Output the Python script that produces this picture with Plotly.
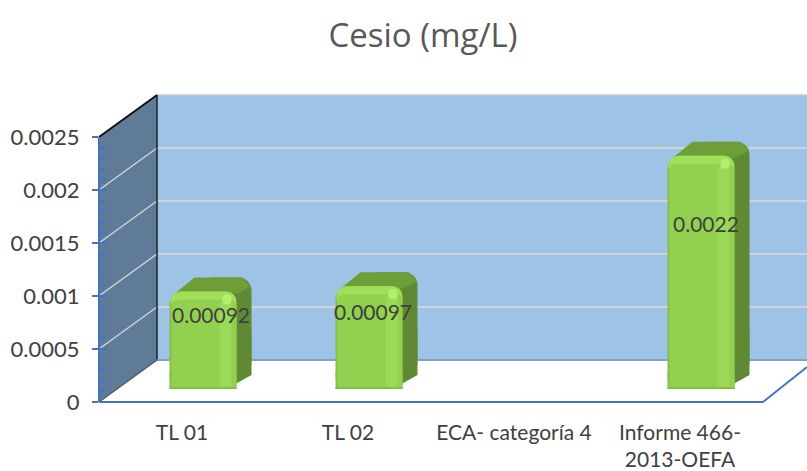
import plotly.graph_objects as go

categories = ["TL 01", "TL 02", "ECA- categoría 4", "Informe 466-<br>2013-OEFA"]
values = [0.00092, 0.00097, None, 0.0022]
value_labels = ["0.00092", "0.00097", "", "0.0022"]
tick_vals = [0, 0.0005, 0.001, 0.0015, 0.002, 0.0025]
tick_text = ["0", "0.0005", "0.001", "0.0015", "0.002", "0.0025"]
title = "Cesio (mg/L)"

W, H = 807, 471
X0, Y0, CAT, UNIT = 99, 402, 166, 106000  # pixel scale of the front axis plane
xr = [-0.5, -0.5 + (W - X0) / CAT]
yr = [0, Y0 / UNIT]


def px(v):
    return v / W


def py(v):
    return 1 - v / H


def dx(p):
    return p / CAT


def dy(p):
    return p / UNIT


fig = go.Figure()

# --- pseudo-3D chart box
def poly(pts, fill, line=None, width=0):
    path = "M" + " L".join(f"{px(a):.5f},{py(b):.5f}" for a, b in pts) + " Z"
    fig.add_shape(type="path", path=path, xref="paper", yref="paper", layer="below",
                  fillcolor=fill, line=dict(color=line or fill, width=width))


def seg(a, b, c, d, color, width=1.5):
    fig.add_shape(type="line", x0=px(a), y0=py(b), x1=px(c), y1=py(d), xref="paper",
                  yref="paper", layer="below", line=dict(color=color, width=width))


poly([(157, 95), (807, 95), (807, 360), (157, 360)], "#9DC3E6")
poly([(99, 402), (157, 360), (157, 95), (99, 137)], "#5F7B97")
for t in tick_vals[1:-1]:
    h = t * UNIT
    seg(157, 360 - h, 807, 360 - h, "#D4D4D4", 2)
    seg(99, 402 - h, 157, 360 - h, "#D4D4D4", 1.5)
seg(157, 95, 807, 95, "#C4CDD6", 1.5)
seg(157, 95, 157, 360, "#222222", 1.5)
seg(99, 137, 157, 95, "#111111", 2)
seg(99, 402, 157, 360, "#555555", 1.2)
seg(157, 360, 807, 360, "#7F9FD3", 2)
seg(99, 402, 763, 402, "#4472C4", 2)
seg(763, 402, 807, 367, "#4472C4", 2)

# --- bars
OFF, BW, BASE = dx(21), 67 / CAT, dy(13)
SX, SY = 15, 14
xs = [i + OFF for i, v in enumerate(values) if v is not None]
vs = [v for v in values if v is not None]


def bar(inset_l, inset_r, inset_t, color, radius_ax="x2", shift=(0, 0), height=None, foot=None, cr=None):
    w = BW - dx(inset_l + inset_r)
    xc = [x + dx(inset_l - inset_r) / 2 + dx(shift[0]) for x in xs]
    marker = dict(color=color, line_width=0)
    if cr is not None:
        marker["cornerradius"] = cr
    if foot is not None:
        ys = [dy(foot)] * len(vs)
        bases = [BASE] * len(vs)
        marker["cornerradius"] = 0
    elif height is None:
        ys = [v - dy(inset_t) for v in vs]
        bases = [BASE + dy(shift[1])] * len(vs)
    else:
        ys = [dy(height)] * len(vs)
        bases = [BASE + v - dy(inset_t + height) for v in vs]
    fig.add_bar(x=xc, y=ys, base=bases, width=w, marker=marker,
                xaxis=radius_ax, yaxis="y2" if radius_ax == "x2" else "y",
                hoverinfo="skip", showlegend=False)


# side face (rear copy of the front face, then chamfer at the foot)
bar(16, 0, 0, "#5F8A33", radius_ax="x", shift=(SX, SY))
for x, v in zip(xs, vs):
    l = x - BW / 2
    r = x + BW / 2
    top = BASE + v
    fig.add_scatter(x=[r - dx(10), r + dx(SX), r + dx(SX), r - dx(10)],
                    y=[BASE, BASE + dy(SY), BASE + dy(60), BASE + dy(60)],
                    fill="toself", fillcolor="#5F8A33", mode="none", xaxis="x", yaxis="y",
                    hoverinfo="skip", showlegend=False)
    fig.add_scatter(x=[l + dx(3), l + dx(25), r + dx(6), r + dx(SX - 1), r + dx(SX - 14), r - dx(6), l + dx(3)],
                    y=[top - dy(4), top + dy(SY), top + dy(SY), top + dy(SY - 9), top - dy(2), top - dy(2), top - dy(4)],
                    fill="toself", fillcolor="#6F9E38", mode="none", xaxis="x", yaxis="y",
                    hoverinfo="skip", showlegend=False)

# front face: nested rounded bars give the bevel and highlights
bar(0, 0, 0, "#84C046")
bar(1, 0, 0, "#9FE05B", height=20)
bar(2, 0, 8, "#92D050", cr=6)
bar(50, 5, 9, "#9ADA56", cr=5)
bar(53, 5, 3, "#B4F06C", height=10, cr=5)
# square foot of the front face
bar(0, 0, 0, "#84C046", foot=16)
bar(2, 0, 0, "#92D050", foot=16)
bar(50, 5, 0, "#9ADA56", foot=16)
bar(0, 0, 0, "#84C046", foot=1.5)

# data labels
label_shift = [(8, -23), (4, -25), None, (5, -68)]
for x, v, t, s in zip(range(4), values, value_labels, label_shift):
    if v is None:
        continue
    fig.add_annotation(x=x + OFF, y=BASE + v, xref="x2", yref="y2", text=t, showarrow=False,
                       xshift=s[0], yshift=s[1], font=dict(family="Lato", size=21, color="#404040"))

# axis carrying the inner ticks, which stop at the top of the scale
fig.add_scatter(x=[0] * len(tick_vals), y=tick_vals, mode="none", xaxis="x3", yaxis="y3",
                hoverinfo="skip", showlegend=False)

fig.update_layout(
    width=W, height=H, margin=dict(l=0, r=0, t=0, b=0, autoexpand=False),
    paper_bgcolor="white", plot_bgcolor="rgba(0,0,0,0)",
    barmode="overlay", barcornerradius=13, showlegend=False,
    title=dict(text=title, x=423 / W, xanchor="center", y=1 - 35 / H, yanchor="middle",
               font=dict(family="Open Sans", size=33, color="#595959")),
    font=dict(family="Lato", color="#404040"),
    xaxis=dict(domain=[px(X0), 1], range=xr, tickmode="array", tickvals=list(range(4)),
               ticktext=categories, ticks="", showgrid=False, zeroline=False, showline=False,
               tickfont=dict(family="Lato", size=21, color="#404040"), ticklabelstandoff=16,
               fixedrange=True),
    yaxis=dict(domain=[py(Y0), 1], range=yr, tickmode="array", tickvals=tick_vals, ticktext=tick_text,
               ticks="outside", ticklen=6, tickwidth=2, tickcolor="#4472C4", showgrid=False,
               zeroline=False, showline=False, tickfont=dict(family="Lato", size=22, color="#404040"),
               ticklabelstandoff=8, fixedrange=True),
    xaxis2=dict(domain=[px(X0), 1], range=xr, overlaying="x", visible=False, fixedrange=True),
    yaxis2=dict(domain=[py(Y0), 1], range=yr, overlaying="y", visible=False, fixedrange=True),
    xaxis3=dict(domain=[px(X0), 1], range=xr, visible=False, fixedrange=True, anchor="y3"),
    yaxis3=dict(domain=[py(Y0), py(137)], range=[0, 0.0025], anchor="x3", tickmode="array",
                tickvals=tick_vals, showticklabels=False, ticks="inside", ticklen=8, tickwidth=2,
                tickcolor="#4472C4", showgrid=False, zeroline=False, showline=False, fixedrange=True,
                minor=dict(dtick=0.0001, tick0=0, ticks="inside", ticklen=7, tickwidth=1.5,
                           tickcolor="#4472C4", showgrid=False)),
)
seg(99, 137, 99, 402, "#4472C4", 2)
fig.write_html("out.html", config=dict(displayModeBar=False),
               post_script="document.body.style.margin='0';")
